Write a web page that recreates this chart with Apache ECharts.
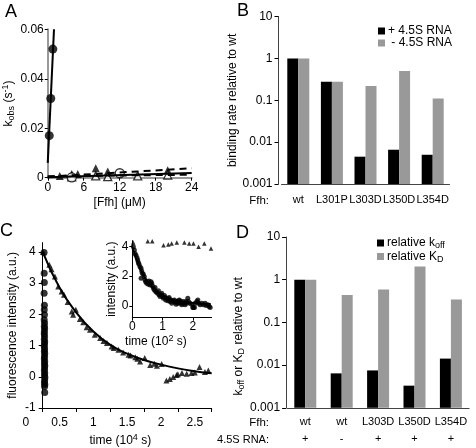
<!DOCTYPE html>
<html><head><meta charset="utf-8">
<script src="https://cdn.jsdelivr.net/npm/echarts@6/dist/echarts.min.js"></script>
<style>html,body{margin:0;padding:0;background:#fff}#c{width:476px;height:448px}</style>
</head><body><div id="c"></div>
<script>
// ---------- Panel A ----------
const aFfhCircle = [0.25, 0.5, 0.85];
const aKobsCircle = [0.017, 0.032, 0.052];
const aFitCircleX = [0, 1.04];
const aFitCircleY = [0.006, 0.06];
const aFfhTriFilled = [2, 4, 5, 8, 10, 20];
const aKobsTriFilled = [0.0007, 0.0015, 0.0015, 0.0038, 0.0025, 0.003];
const aFitTriFilledX = [0, 24];
const aFitTriFilledY = [0.0004, 0.0038];
const aFfhOpenCircle = [4, 12];
const aKobsOpenCircle = [0.0001, 0.0018];
const aFitOpenCircleX = [0, 24];
const aFitOpenCircleY = [0.0002, 0.0019];
const aFfhOpenTri = [4, 8, 10, 15, 20];
const aKobsOpenTri = [0.0003, 0.0007, 0.0004, 0.0007, 0.0011];
const aFitOpenTriX = [0, 24];
const aFitOpenTriY = [0.0006, 0.0012];

// ---------- Panel B ----------
const bCats = ['wt', 'L301P', 'L303D', 'L350D', 'L354D'];
const bPlusRNA = [1, 0.28, 0.0045, 0.0066, 0.0050];
const bMinusRNA = [1, 0.28, 0.22, 0.50, 0.11];
const bNames = ['+ 4.5S RNA', ' - 4.5S RNA'];

// ---------- Panel C (main) ----------
const cXTickLabels = ['0', '0.5', '1', '1.5', '2', '2.5'];
const cYTicks = [-1, 0, 1, 2, 3, 4];
const cTriT = [0.004, 0.098, 0.13, 0.18, 0.23, 0.28, 0.315, 0.37, 0.43, 0.45, 0.49, 0.55, 0.6, 0.65, 0.70, 0.77, 0.85, 0.9, 0.95, 1.02, 1.05, 1.12, 1.19, 1.27, 1.3, 1.37, 1.4, 1.44, 1.51, 1.59, 1.65, 1.69, 1.76, 1.83, 1.88, 1.93, 1.98, 2.0, 2.06, 2.13, 2.20, 2.25, 2.32, 2.4, 2.45];
const cTriV = [4.0, 3.59, 3.45, 3.21, 2.89, 2.73, 2.63, 2.4, 2.09, 1.99, 2.15, 1.85, 1.75, 1.59, 1.51, 1.35, 1.24, 1.15, 1.08, 0.97, 0.92, 0.87, 0.78, 0.71, 0.68, 0.63, 0.58, 0.49, 0.60, 0.38, 0.42, 0.35, 0.41, -0.12, -0.07, -0.01, 0.06, 0.08, 0.12, 0.10, 0.12, 0.14, 0.31, 0.15, 0.2];
const cCircT = [0.020, 0.022, 0.024, 0.021, 0.025, 0.023, 0.026, 0.022, 0.027, 0.024, 0.028, 0.025, 0.023, 0.027, 0.024, 0.029, 0.026, 0.023, 0.028, 0.025, 0.030, 0.027, 0.024, 0.029, 0.026, 0.031, 0.028, 0.025, 0.030, 0.027, 0.032, 0.029, 0.026, 0.031, 0.028, 0.030];
const cCircV = [3.98, 3.32, 3.02, 2.68, 2.29, 2.15, 1.99, 1.83, 1.72, 1.62, 1.55, 1.45, 1.38, 1.3, 1.2, 1.12, 1.05, 0.98, 0.9, 0.82, 0.75, 0.66, 0.58, 0.5, 0.42, 0.35, 0.28, 0.2, 0.12, 0.05, -0.02, -0.1, -0.18, -0.25, -0.31, -0.5];
const cFitT = [0, 0.25, 0.5, 0.75, 1, 1.25, 1.5, 1.75, 2, 2.25, 2.5];
const cFitV = [4.0, 2.85, 2.05, 1.45, 1.02, 0.74, 0.54, 0.39, 0.27, 0.18, 0.11];

// ---------- Panel C (inset) ----------
const iXTicks = [0, 1, 2];
const iYTicks = [0, 2, 4];
const iCircT = [0.034, 0.067, 0.089, 0.122, 0.156, 0.177, 0.2, 0.222, 0.255, 0.288, 0.31, 0.332, 0.365, 0.398, 0.29, 0.42, 0.443, 0.476, 0.509, 0.531, 0.553, 0.586, 0.619, 0.641, 0.663, 0.697, 0.73, 0.752, 0.774, 0.807, 0.84, 0.862, 0.884, 0.917, 0.95, 0.972, 0.994, 1.027, 1.06, 1.083, 1.105, 1.138, 1.171, 1.193, 1.215, 1.248, 1.281, 1.303, 1.336, 1.358, 1.391, 1.414, 1.447, 1.469, 1.502, 1.524, 1.557, 1.579, 1.612, 1.634, 1.668, 1.69, 1.723, 1.745, 1.778, 1.8, 1.833, 1.855, 1.91, 1.966, 1.999, 2.021, 2.054, 2.076, 2.132, 2.165, 2.187, 2.242, 2.297, 2.352, 2.407, 2.44, 2.496, 2.54, 2.573];
const iCircV = [3.98, 3.76, 3.53, 3.42, 3.24, 3.09, 2.93, 2.80, 2.64, 2.53, 2.35, 2.19, 2.13, 1.97, 1.86, 1.74, 1.63, 1.52, 1.63, 1.45, 1.68, 1.41, 1.63, 1.52, 1.36, 1.19, 1.07, 1.23, 0.96, 0.92, 0.85, 1.01, 0.74, 0.63, 0.74, 0.85, 0.63, 0.51, 0.69, 0.56, 0.40, 0.51, 0.34, 0.47, 0.56, 0.29, 0.40, 0.18, 0.34, 0.29, 0.40, 0.25, 0.11, 0.29, 0.18, 0.34, 0.40, 0.18, 0.29, 0.07, 0.18, 0.29, 0.18, 0.07, 0.29, 0.18, 0.51, 0.29, 0.18, 0.11, -0.11, -0.11, -0.11, 0.18, 0.29, 0.40, 0.18, 0.07, 0.18, 0.07, 0.18, 0.02, 0.07, -0.04, -0.11];
const iTriT = [0.03, 0.51, 0.66, 1.03, 1.19, 1.30, 1.47, 1.72, 1.88, 2.02, 2.19, 2.38, 2.6];
const iTriV = [4.27, 4.36, 4.36, 4.09, 4.14, 4.2, 4.27, 4.27, 4.2, 4.2, 3.98, 4.2, 3.87];
const iFitT = [0, 0.1, 0.2, 0.3, 0.4, 0.5, 0.6, 0.8, 1.0, 1.2, 1.4, 1.6, 1.8, 2.0, 2.3, 2.6];
const iFitV = [4.0, 3.33, 2.78, 2.32, 1.94, 1.63, 1.37, 0.97, 0.70, 0.51, 0.38, 0.30, 0.23, 0.19, 0.15, 0.13];

// ---------- Panel D ----------
const dFfh = ['wt', 'wt', 'L303D', 'L350D', 'L354D'];
const dRNA = ['+', '-', '+', '+', '+'];
const dKoff = [1, 0.0064, 0.0075, 0.0033, 0.0142];
const dKD = [1, 0.44, 0.59, 2.03, 0.345];
const dNames = ['relative koff', 'relative KD'];

const zip = (xs, ys) => xs.map((x, i) => [x, ys[i]]);
const FONT = 'Liberation Sans, Arial, sans-serif';
const rich = {
  n: { fontSize: 12, fontFamily: FONT, color: '#000' },
  sub: { fontSize: 9, fontFamily: FONT, color: '#000', padding: [6, 0, 0, 0] },
  sup: { fontSize: 9, fontFamily: FONT, color: '#000', padding: [0, 0, 7, 0] }
};
const tickOut = (len) => ({ show: true, inside: false, length: len, lineStyle: { color: '#000' } });
const lbl = (extra) => Object.assign({ color: '#000', fontSize: 12, fontFamily: FONT }, extra || {});
const logFmt = v => String(parseFloat(Number(v).toPrecision(6)));
const letter = (t, l, tp) => ({ text: t, left: l, top: tp, padding: 0, textStyle: { fontSize: 18, fontWeight: 'normal', color: '#000', fontFamily: FONT } });
const rowHead = (t, tp, fs) => ({ text: t, right: 207, top: tp, padding: 0, textStyle: { fontSize: fs, fontWeight: 'normal', color: '#000', fontFamily: FONT } });

const chart = echarts.init(document.getElementById('c'), null, { renderer: 'canvas' });

const option = {
  animation: false,
  backgroundColor: '#fff',
  textStyle: { fontFamily: FONT, color: '#000' },
  title: [
    letter('A', 5, 3), letter('B', 237, 2), letter('C', 0, 222), letter('D', 236, 224),
    rowHead('Ffh:', 195, 11.5), rowHead('Ffh:', 417, 11.5), rowHead('4.5S RNA:', 434.5, 11)
  ],
  legend: [
    { data: bNames, orient: 'vertical', left: 378, top: 25, itemWidth: 7, itemHeight: 7, itemGap: 0, icon: 'rect', padding: 0,
      textStyle: { fontSize: 12, lineHeight: 11.7, color: '#000', fontFamily: FONT, padding: [0, 0, 0, -2] } },
    { data: dNames, orient: 'vertical', left: 377, top: 237, itemWidth: 7, itemHeight: 7, itemGap: 0, icon: 'rect', padding: 0,
      formatter: name => name === dNames[0] ? '{n|relative k}{sub|off}' : '{n|relative K}{sub|D}',
      textStyle: { fontSize: 12, lineHeight: 11.6, color: '#000', fontFamily: FONT, padding: [0, 0, 0, -2],
        rich: { n: { fontSize: 12, fontFamily: FONT, color: '#000', lineHeight: 11.6 }, sub: { fontSize: 9, fontFamily: FONT, color: '#000', padding: [6, 0, 0, 0] } } } }
  ],
  grid: [
    { left: 44.7, top: 29.3, width: 147, height: 148.4 },      // A
    { left: 281.5, top: 16.7, width: 168, height: 167.3 },     // B
    { left: 42.7, top: 242.6, width: 169, height: 165.4 },     // C main
    { left: 8.9, top: 242.6, width: 202.8, height: 165.4 },    // C label band
    { left: 132.3, top: 240.6, width: 79.3, height: 77.1 },    // C inset
    { left: 287.1, top: 237, width: 182, height: 173.3 }       // D
  ],
  xAxis: [
    { gridIndex: 0, type: 'value', min: 0, max: 24, interval: 6,
      axisLine: { show: true, onZero: false, lineStyle: { color: '#999', width: 2 } }, axisTick: tickOut(3),
      axisLabel: lbl({ margin: 4 }), splitLine: { show: false },
      name: '[Ffh] (\u03bcM)', nameLocation: 'middle', nameGap: 19, nameTextStyle: { fontSize: 12, color: '#000', fontFamily: FONT } },
    { gridIndex: 1, type: 'category', data: bCats, axisLine: { show: true, lineStyle: { color: '#444' } }, axisTick: { show: false },
      axisLabel: lbl({ margin: 10, interval: 0, fontSize: 11 }) },
    { gridIndex: 2, type: 'value', min: 0, max: 2.5, interval: 0.5,
      axisLine: { show: true, onZero: false, lineStyle: { color: '#000' } }, axisTick: tickOut(4),
      axisLabel: { show: false }, splitLine: { show: false } },
    { gridIndex: 3, type: 'category', data: cXTickLabels, boundaryGap: true,
      axisLine: { show: false }, axisTick: { show: false }, axisLabel: lbl({ margin: 9, interval: 0 }),
      name: '{n|time (10}{sup|4}{n| s)}', nameLocation: 'middle', nameGap: 25,
      nameTextStyle: { rich: rich, padding: [0, 0, 0, 20] } },
    { gridIndex: 4, type: 'value', min: 0, max: 2.62,
      axisLine: { show: true, onZero: false, lineStyle: { color: '#000' } },
      axisTick: Object.assign(tickOut(3), { customValues: iXTicks }),
      axisLabel: lbl({ margin: 3, customValues: iXTicks }), splitLine: { show: false },
      name: '{n|time (10}{sup|2}{n| s)}', nameLocation: 'middle', nameGap: 15,
      nameTextStyle: { rich: rich, padding: [0, 32, 0, 0] } },
    { gridIndex: 5, type: 'category', data: dFfh.map((f, i) => f + ' ' + dRNA[i]),
      axisLine: { show: true, lineStyle: { color: '#444' } }, axisTick: { show: false },
      axisLabel: lbl({ margin: 5, interval: 0, fontSize: 11, lineHeight: 17.6, formatter: (v, i) => dFfh[i] + '\n' + dRNA[i] }) }
  ],
  yAxis: [
    { gridIndex: 0, type: 'value', min: 0, max: 0.06, interval: 0.02,
      axisLine: { show: true, onZero: false, lineStyle: { color: '#999', width: 2 } }, axisTick: tickOut(3),
      axisLabel: lbl({ margin: 4 }), splitLine: { show: false },
      name: '{n|k}{sub|obs}{n| (s}{sup|-1}{n|)}', nameLocation: 'middle', nameGap: 28, nameTextStyle: { rich: rich } },
    { gridIndex: 1, type: 'log', logBase: 10, min: 0.001, max: 10, startValue: 0.001, offset: 3,
      axisLine: { show: true, lineStyle: { color: '#444' } }, axisTick: tickOut(4),
      axisLabel: lbl({ margin: 6, formatter: logFmt }), splitLine: { show: false },
      name: 'binding rate relative to wt', nameLocation: 'middle', nameGap: 27,
      nameTextStyle: { fontSize: 12, color: '#000', fontFamily: FONT } },
    { gridIndex: 2, type: 'value', min: -1, max: 4.3,
      axisLine: { show: true, onZero: false, lineStyle: { color: '#000' } },
      axisTick: Object.assign(tickOut(4), { customValues: cYTicks }),
      axisLabel: lbl({ margin: 7, customValues: cYTicks }), splitLine: { show: false },
      name: 'fluorescence intensity (a.u.)', nameLocation: 'middle', nameGap: 24,
      nameTextStyle: { fontSize: 12, color: '#000', fontFamily: FONT } },
    { gridIndex: 3, type: 'value', show: false },
    { gridIndex: 4, type: 'value', min: -0.8, max: 4.4,
      axisLine: { show: true, onZero: false, lineStyle: { color: '#000' } },
      axisTick: Object.assign(tickOut(3), { customValues: iYTicks }),
      axisLabel: lbl({ margin: 4, customValues: iYTicks }), splitLine: { show: false },
      name: 'intensity (a.u.)', nameLocation: 'middle', nameGap: 14,
      nameTextStyle: { fontSize: 12, color: '#000', fontFamily: FONT } },
    { gridIndex: 5, type: 'log', logBase: 10, min: 0.001, max: 10, startValue: 0.001, offset: 1,
      axisLine: { show: true, lineStyle: { color: '#444' } }, axisTick: tickOut(4),
      axisLabel: lbl({ margin: 6, formatter: logFmt }), splitLine: { show: false },
      name: '{n|k}{sub|off}{n| or K}{sub|D}{n| relative to wt}', nameLocation: 'middle', nameGap: 27,
      nameTextStyle: { rich: rich, padding: [0, 28, 0, 0] } }
  ],
  series: [
    { type: 'line', xAxisIndex: 0, yAxisIndex: 0, data: zip(aFitCircleX, aFitCircleY), showSymbol: false, lineStyle: { color: '#000', width: 2 } },
    { type: 'line', xAxisIndex: 0, yAxisIndex: 0, data: zip(aFitTriFilledX, aFitTriFilledY), showSymbol: false, lineStyle: { color: '#000', width: 2, type: [7, 5] } },
    { type: 'line', xAxisIndex: 0, yAxisIndex: 0, data: zip(aFitOpenCircleX, aFitOpenCircleY), showSymbol: false, lineStyle: { color: '#000', width: 2 } },
    { type: 'line', xAxisIndex: 0, yAxisIndex: 0, data: zip(aFitOpenTriX, aFitOpenTriY), showSymbol: false, lineStyle: { color: '#000', width: 2, type: [7, 5] } },
    { type: 'scatter', xAxisIndex: 0, yAxisIndex: 0, data: zip(aFfhTriFilled, aKobsTriFilled), symbol: 'triangle', symbolSize: 8, itemStyle: { color: '#000' }, clip: false },
    { type: 'scatter', xAxisIndex: 0, yAxisIndex: 0, data: zip(aFfhOpenTri, aKobsOpenTri), symbol: 'triangle', symbolSize: 8, itemStyle: { color: '#fff', borderColor: '#000', borderWidth: 1.3 }, clip: false },
    { type: 'scatter', xAxisIndex: 0, yAxisIndex: 0, data: zip(aFfhOpenCircle, aKobsOpenCircle), symbol: 'circle', symbolSize: 9, itemStyle: { color: '#fff', borderColor: '#000', borderWidth: 1.3 }, clip: false },
    { type: 'scatter', xAxisIndex: 0, yAxisIndex: 0, data: zip(aFfhCircle, aKobsCircle), symbol: 'circle', symbolSize: 9, itemStyle: { color: '#000' }, clip: false },
    { name: bNames[0], type: 'bar', xAxisIndex: 1, yAxisIndex: 1, data: bPlusRNA, barWidth: 11, barGap: '0%', itemStyle: { color: '#000' } },
    { name: bNames[1], type: 'bar', xAxisIndex: 1, yAxisIndex: 1, data: bMinusRNA, barWidth: 11, barGap: '0%', itemStyle: { color: '#999' } },
    { type: 'line', xAxisIndex: 2, yAxisIndex: 2, data: zip(cFitT, cFitV), smooth: true, showSymbol: false, lineStyle: { color: '#000', width: 2 }, z: 3 },
    { type: 'scatter', xAxisIndex: 2, yAxisIndex: 2, data: zip(cTriT, cTriV), symbol: 'triangle', symbolSize: 6, itemStyle: { color: '#000' }, clip: false },
    { type: 'scatter', xAxisIndex: 2, yAxisIndex: 2, data: zip(cCircT, cCircV), symbol: 'circle', symbolSize: 7, itemStyle: { color: '#000' }, clip: false },
    { type: 'line', xAxisIndex: 4, yAxisIndex: 4, data: zip(iFitT, iFitV), smooth: true, showSymbol: false, lineStyle: { color: '#000', width: 1.5 } },
    { type: 'scatter', xAxisIndex: 4, yAxisIndex: 4, data: zip(iCircT, iCircV), symbol: 'circle', symbolSize: 5, itemStyle: { color: '#000' }, clip: false },
    { type: 'scatter', xAxisIndex: 4, yAxisIndex: 4, data: zip(iTriT, iTriV), symbol: 'triangle', symbolSize: 4.5, itemStyle: { color: '#000' }, clip: false },
    { name: dNames[0], type: 'bar', xAxisIndex: 5, yAxisIndex: 5, data: dKoff, barWidth: 11, barGap: '0%', itemStyle: { color: '#000' } },
    { name: dNames[1], type: 'bar', xAxisIndex: 5, yAxisIndex: 5, data: dKD, barWidth: 11, barGap: '0%', itemStyle: { color: '#999' } }
  ]
};
chart.setOption(option);
</script>
</body></html>
